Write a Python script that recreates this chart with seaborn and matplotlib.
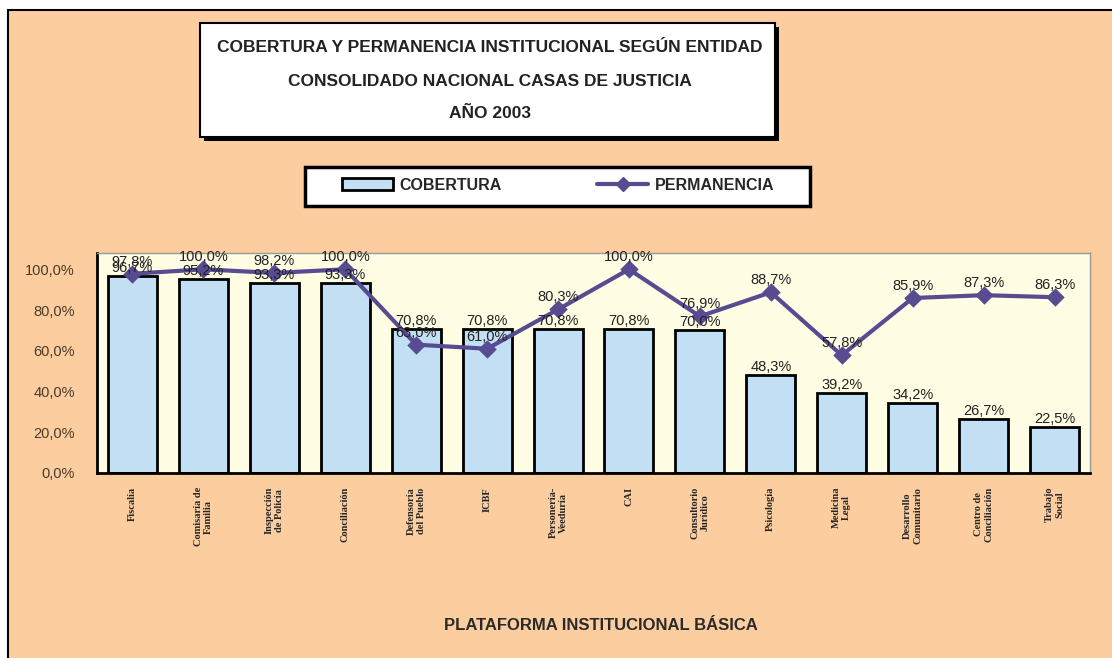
import matplotlib
matplotlib.use("Agg")
import matplotlib.pyplot as plt
import seaborn as sns
import pandas as pd
from matplotlib.patches import Rectangle
from matplotlib.lines import Line2D
from matplotlib.ticker import FuncFormatter

# Data
entidades = [
    "Fiscalía", "Comisaría de\nFamilia", "Inspección\nde Policía", "Conciliación",
    "Defensoría\ndel Pueblo", "ICBF", "Personería-\nVeeduría", "CAI",
    "Consultorio\nJurídico", "Psicología", "Medicina\nLegal", "Desarrollo\nComunitario",
    "Centro de\nConciliación", "Trabajo\nSocial",
]
cobertura = [96.7, 95.2, 93.3, 93.3, 70.8, 70.8, 70.8, 70.8, 70.0, 48.3, 39.2, 34.2, 26.7, 22.5]
permanencia = [97.8, 100.0, 98.2, 100.0, 63.0, 61.0, 80.3, 100.0, 76.9, 88.7, 57.8, 85.9, 87.3, 86.3]
y_ticks = [0, 20, 40, 60, 80, 100]

df = pd.DataFrame({"entidad": entidades, "cobertura": cobertura, "permanencia": permanencia})

peach = "#FCCD9F"
plot_bg = "#FFFDE3"
bar_color = "#C3DFF3"
line_color = "#574C92"
sans = ["Liberation Sans", "DejaVu Sans"]

sns.set_theme(style="white")
plt.rcParams["font.family"] = sans

fig = plt.figure(figsize=(11.12, 6.58), dpi=100, facecolor="white")
W, H = 1112, 658

def fx(px):
    return px / W

def fy(py):
    return 1 - py / H

# outer peach frame
fig.patches.append(Rectangle((fx(8), fy(660)), fx(1110), fy(10) - fy(660), transform=fig.transFigure,
                             facecolor=peach, edgecolor="black", linewidth=1.5, zorder=0))

ax = fig.add_axes([fx(97), fy(473), fx(1090) - fx(97), fy(253) - fy(473)])
ax.set_zorder(5)
ax.set_facecolor(plot_bg)

sns.barplot(data=df, x="entidad", y="cobertura", color=bar_color, edgecolor="black",
            linewidth=2, width=0.69, saturation=1, ax=ax, zorder=2)
sns.pointplot(data=df, x="entidad", y="permanencia", color=line_color, markers="D",
              markersize=7, linewidth=3, ax=ax, zorder=3)

for i, v in enumerate(cobertura):
    ax.text(i, v + 0.5, f"{v:.1f}%".replace(".", ","), ha="center", va="bottom",
            fontsize=10.5, color="#222222", zorder=4)
for i, v in enumerate(permanencia):
    ax.text(i, v + 2.5, f"{v:.1f}%".replace(".", ","), ha="center", va="bottom",
            fontsize=10.5, color="#222222", zorder=4)

ax.set_ylim(0, 108)
ax.set_xlim(-0.5, len(entidades) - 0.5)
ax.set_yticks(y_ticks)
ax.yaxis.set_major_formatter(FuncFormatter(lambda v, p: f"{v:.1f}%".replace(".", ",")))
ax.tick_params(axis="y", length=0, pad=16, labelsize=10.5, labelcolor="#4A3A2A")

ax.set_xticks(range(len(entidades)))
ax.set_xticklabels(entidades, rotation=90, fontsize=7.5, fontweight="bold",
                   family=["Liberation Serif", "DejaVu Serif"], va="top", linespacing=1.15)
ax.tick_params(axis="x", length=0, pad=10)
# small tick marks between categories
ax.set_xticks([i + 0.5 for i in range(-1, len(entidades))], minor=True)
ax.tick_params(axis="x", which="minor", length=6, width=1.5, color="black", direction="inout")

ax.set_xlabel("")
ax.set_ylabel("")
for side in ["left", "bottom"]:
    ax.spines[side].set_color("black")
    ax.spines[side].set_linewidth(2)
for side in ["top", "right"]:
    ax.spines[side].set_color("#999999")
    ax.spines[side].set_linewidth(1)

# title box with shadow
fig.patches.append(Rectangle((fx(204), fy(141)), fx(775) - fx(200), fy(23) - fy(137),
                             transform=fig.transFigure, facecolor="black", edgecolor="none", zorder=1))
fig.patches.append(Rectangle((fx(200), fy(137)), fx(775) - fx(200), fy(23) - fy(137),
                             transform=fig.transFigure, facecolor="white", edgecolor="black",
                             linewidth=1.5, zorder=2))
title_lines = ["COBERTURA Y PERMANENCIA INSTITUCIONAL SEGÚN ENTIDAD",
               "CONSOLIDADO NACIONAL CASAS DE JUSTICIA", "AÑO 2003"]
for line, py in zip(title_lines, [47, 82, 113]):
    fig.text(fx(490), fy(py), line, ha="center", va="center", fontsize=12.5,
             fontweight="bold", color="#222222", zorder=3)

# legend box
fig.patches.append(Rectangle((fx(305), fy(206)), fx(810) - fx(305), fy(167) - fy(206),
                             transform=fig.transFigure, facecolor="white", edgecolor="black",
                             linewidth=2.5, zorder=2))
handles = [
    Rectangle((0, 0), 1, 1, facecolor=bar_color, edgecolor="black", linewidth=2),
    Line2D([0], [0], color=line_color, linewidth=3, marker="D", markersize=7),
]
leg = fig.legend(handles, ["COBERTURA", "PERMANENCIA"], loc="center", ncol=2,
                 bbox_to_anchor=(fx(558), fy(185)), frameon=False, handlelength=3.2,
                 handleheight=0.7, columnspacing=6, handletextpad=0.4,
                 prop={"weight": "bold", "size": 11.5})
leg.set_zorder(3)

fig.text(fx(601), fy(625), "PLATAFORMA INSTITUCIONAL BÁSICA", ha="center", va="center",
         fontsize=12, fontweight="bold", color="#2A2A2A")

fig.savefig("out.png", dpi=100, facecolor="white")
